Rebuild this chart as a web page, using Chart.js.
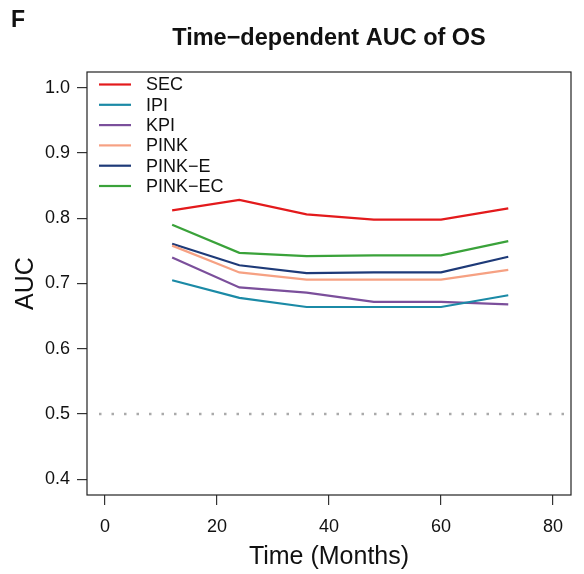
<!DOCTYPE html>
<html>
<head>
<meta charset="utf-8">
<script src="https://cdn.jsdelivr.net/npm/chart.js@4.4.0/dist/chart.umd.min.js"></script>
<style>
  html, body { margin: 0; padding: 0; background: #fff; }
  #wrap { width: 584px; height: 574px; }
</style>
</head>
<body>
<div id="wrap"><canvas id="auc-chart" width="584" height="574"></canvas></div>
<script>
// Datos
const months = [12, 24, 36, 48, 60, 72];
const seriesNames = ['SEC', 'IPI', 'KPI', 'PINK', 'PINK\u2212E', 'PINK\u2212EC'];
const secAuc    = [0.812, 0.828, 0.806, 0.798, 0.798, 0.815];
const ipiAuc    = [0.705, 0.678, 0.664, 0.664, 0.664, 0.682];
const kpiAuc    = [0.740, 0.694, 0.686, 0.672, 0.672, 0.668];
const pinkAuc   = [0.758, 0.717, 0.706, 0.706, 0.706, 0.721];
const pinkEAuc  = [0.761, 0.728, 0.716, 0.717, 0.717, 0.741];
const pinkECAuc = [0.790, 0.747, 0.742, 0.743, 0.743, 0.765];
const seriesColors = ['#E31A1C', '#1B8AA6', '#7B4F9B', '#F6A183', '#1E3A78', '#3AA23A'];
const xTicks = [0, 20, 40, 60, 80];
const yTicks = [0.4, 0.5, 0.6, 0.7, 0.8, 0.9, 1.0];
const refAuc = 0.5;

const allSeries = [secAuc, ipiAuc, kpiAuc, pinkAuc, pinkEAuc, pinkECAuc];
const FONT = 'Arial, "Liberation Sans", Helvetica, sans-serif';

// Caja, línea de referencia, leyenda y títulos
const decorPlugin = {
    id: 'decor',
    beforeDatasetsDraw(chart) {
        const { ctx, chartArea: a, scales } = chart;
        const y = scales.y.getPixelForValue(refAuc);
        ctx.save();
        ctx.strokeStyle = '#aaaaaa';
        ctx.lineWidth = 2.5;
        ctx.setLineDash([2.5, 10]);
        ctx.beginPath();
        ctx.moveTo(a.left + 12, y);
        ctx.lineTo(a.right, y);
        ctx.stroke();
        ctx.restore();
    },
    afterDraw(chart) {
        const { ctx, chartArea: a } = chart;
        ctx.save();
        ctx.strokeStyle = '#222';
        ctx.lineWidth = 1.2;
        ctx.strokeRect(a.left, a.top, a.right - a.left, a.bottom - a.top);

        // leyenda
        ctx.font = '18px ' + FONT;
        ctx.textBaseline = 'middle';
        ctx.fillStyle = '#111';
        seriesNames.forEach((name, i) => {
            const ly = a.top + 12.5 + i * 20.3;
            ctx.strokeStyle = seriesColors[i];
            ctx.lineWidth = 2.2;
            ctx.beginPath();
            ctx.moveTo(a.left + 12, ly);
            ctx.lineTo(a.left + 44, ly);
            ctx.stroke();
            ctx.fillText(name, a.left + 59, ly + 1);
        });

        // títulos
        ctx.fillStyle = '#111';
        ctx.textAlign = 'center';
        ctx.textBaseline = 'alphabetic';
        ctx.font = 'bold 23.5px ' + FONT;
        ctx.fillText('Time\u2212dependent AUC of OS', (a.left + a.right) / 2, 45);
        ctx.textAlign = 'left';
        ctx.font = 'bold 23px ' + FONT;
        ctx.fillText('F', 11, 27);
        ctx.restore();
    }
};

const ctx = document.getElementById('auc-chart').getContext('2d');
new Chart(ctx, {
    type: 'line',
    data: {
        labels: months,
        datasets: allSeries.map((vals, i) => ({
            label: seriesNames[i],
            data: months.map((m, j) => ({ x: m, y: vals[j] })),
            borderColor: seriesColors[i],
            backgroundColor: seriesColors[i],
            borderWidth: 2.2,
            pointRadius: 0,
            tension: 0,
            fill: false
        }))
    },
    options: {
        responsive: false,
        animation: false,
        devicePixelRatio: 1,
        layout: { padding: { top: 72, right: 13, left: 0, bottom: 0 } },
        plugins: {
            legend: { display: false },
            title: { display: false },
            tooltip: { enabled: false }
        },
        scales: {
            x: {
                type: 'linear',
                min: -3.2,
                max: 83.2,
                afterBuildTicks: s => { s.ticks = xTicks.map(v => ({ value: v })); },
                afterFit: s => { s.height = 79; },
                border: { display: false },
                grid: { drawOnChartArea: false, drawTicks: true, tickLength: 10, color: '#333', lineWidth: 1.2 },
                ticks: { color: '#111', font: { family: FONT, size: 18 }, padding: 11, maxRotation: 0 },
                title: { display: true, text: 'Time (Months)', color: '#111', font: { family: FONT, size: 25 }, padding: { top: 0, bottom: 2 } }
            },
            y: {
                type: 'linear',
                min: 0.376,
                max: 1.024,
                afterBuildTicks: s => { s.ticks = yTicks.map(v => ({ value: v })); },
                afterFit: s => { s.width = 87; },
                border: { display: false },
                grid: { drawOnChartArea: false, drawTicks: true, tickLength: 10, color: '#333', lineWidth: 1.2 },
                ticks: { color: '#111', font: { family: FONT, size: 18 }, padding: 7, callback: v => v.toFixed(1) },
                title: { display: true, text: 'AUC', color: '#111', font: { family: FONT, size: 25 }, padding: { top: 11, bottom: 0 } }
            }
        }
    },
    plugins: [decorPlugin]
});
</script>
</body>
</html>
